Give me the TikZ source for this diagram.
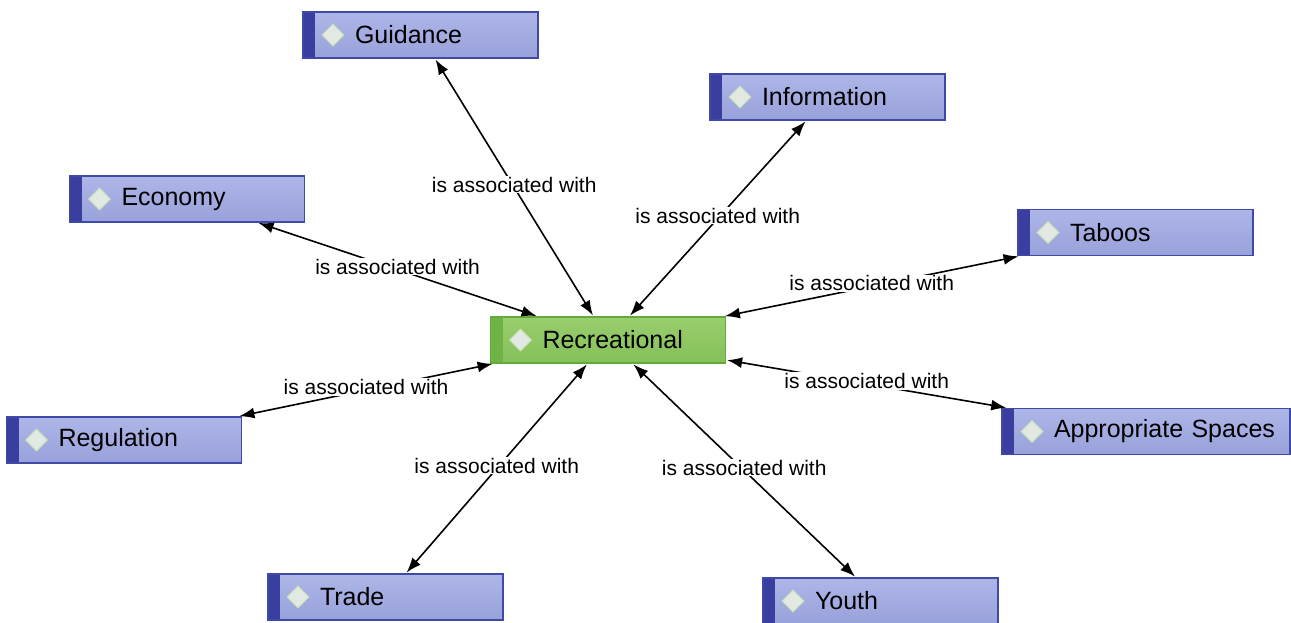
\documentclass[tikz,border=0pt]{standalone}
\usepackage{fontspec}
\setmainfont{Liberation Sans}
\usetikzlibrary{arrows.meta}
\definecolor{bluetop}{HTML}{AEB6E8}
\definecolor{bluebot}{HTML}{98A1DA}
\definecolor{blueedge}{HTML}{3F49A8}
\definecolor{bluestrip}{HTML}{3A3E9E}
\definecolor{greentop}{HTML}{98CE6C}
\definecolor{greenbot}{HTML}{86C05A}
\definecolor{greenedge}{HTML}{62AA3C}
\definecolor{greenstrip}{HTML}{6FB245}
\definecolor{gemfill}{HTML}{E2E9E2}
\definecolor{gemedge}{HTML}{C4DEB6}
\tikzset{
  tabbed/.style={path picture={
      \fill[#1] (path picture bounding box.south west) rectangle ([xshift=12pt]path picture bounding box.north west);
      \draw[gemedge, fill=gemfill, line width=1pt] ([xshift=19pt]path picture bounding box.west) -- ++(11pt,11pt) -- ++(11pt,-11pt) -- ++(-11pt,-11pt) -- cycle;}},
  concept/.style={draw=blueedge, line width=1.3pt, top color=bluetop, bottom color=bluebot,
    tabbed=bluestrip, minimum height=46pt, text width=#1, inner xsep=12pt, inner ysep=0pt,
    align=left, font=\fontsize{25}{30}\selectfont, execute at begin node={\hspace*{40pt}}},
  concept/.default=211pt,
  core/.style={concept, draw=greenedge, top color=greentop, bottom color=greenbot, tabbed=greenstrip},
  link/.style={{Latex[length=15pt,width=11pt]}-{Latex[length=15pt,width=11pt]}, line width=1.6pt, shorten <=1pt, shorten >=1pt},
  assoc/.style={midway, yshift=3pt, fill=white, inner sep=1pt, font=\fontsize{21}{24}\selectfont}
}
\begin{document}
\begin{tikzpicture}[x=1pt, y=-1pt]
  \useasboundingbox (0,0) rectangle (1291,622);
  \clip (0,0) rectangle (1291,622);
  \node[core] (rec) at (608,340) {Recreational};
  \node[concept] (guid) at (420.5,35) {Guidance};
  \node[concept] (info) at (827.5,97) {Information};
  \node[concept] (econ) at (187,199) {Economy};
  \node[concept] (taboo) at (1135.5,232.5) {Taboos};
  \node[concept=264pt] (approp) at (1146,431.5) {Appropriate~Spaces};
  \node[concept] (regul) at (124,440) {Regulation};
  \node[concept] (trade) at (385.5,597) {Trade};
  \node[concept] (youth) at (880.5,601) {Youth};
  \draw[link] (guid) -- (rec) node[assoc] {is associated with};
  \draw[link] (info) -- (rec) node[assoc] {is associated with};
  \draw[link] (econ) -- (rec) node[assoc] {is associated with};
  \draw[link] (taboo) -- (rec) node[assoc] {is associated with};
  \draw[link] (approp) -- (rec) node[assoc] {is associated with};
  \draw[link] (regul) -- (rec) node[assoc] {is associated with};
  \draw[link] (trade) -- (rec) node[assoc] {is associated with};
  \draw[link] (youth) -- (rec) node[assoc] {is associated with};
\end{tikzpicture}
\end{document}
